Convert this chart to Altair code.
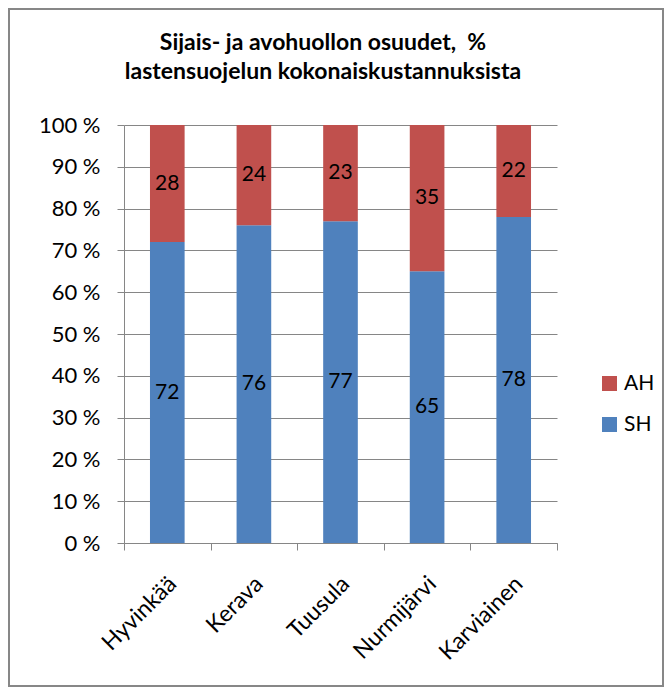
import altair as alt
import pandas as pd

categories = ["Hyvinkää", "Kerava", "Tuusula", "Nurmijärvi", "Karviainen"]
sh_values = [72, 76, 77, 65, 78]
ah_values = [28, 24, 23, 35, 22]
series = ["AH", "SH"]
colors = ["#C0504D", "#4F81BD"]
y_ticks = list(range(0, 101, 10))
title_lines = ["Sijais- ja avohuollon osuudet,\u00a0 %", "lastensuojelun kokonaiskustannuksista"]

rows = []
for c, s, a in zip(categories, sh_values, ah_values):
    rows.append({"kunta": c, "sarja": "SH", "arvo": s, "jarj": 0})
    rows.append({"kunta": c, "sarja": "AH", "arvo": a, "jarj": 1})
df = pd.DataFrame(rows)

FONT = "Lato"
GRAY = "#868686"
W, H = 433, 418
PL, PT, PR, PB = 116, 117, 107, 144

base = alt.Chart(df).transform_stack(
    stack="arvo", groupby=["kunta"], as_=["y0", "y1"], sort=[alt.SortField("jarj")]
).transform_calculate(ymid="(datum.y0 + datum.y1) / 2")

x_scale = alt.Scale(paddingInner=0, paddingOuter=0)
x_enc = alt.X(
    "kunta:N", sort=categories, scale=x_scale,
    axis=alt.Axis(title=None, labelAngle=-45, labelAlign="right", labelBaseline="middle",
                  labelFont=FONT, labelFontSize=23, labelColor="black", labelPadding=30,
                  labelOffset=5,
                  tickBand="extent", tickSize=7, tickColor=GRAY, domainColor=GRAY, grid=False),
)

bars = base.mark_bar(width=alt.RelativeBandSize(0.4)).encode(
    x=x_enc,
    y=alt.Y("y0:Q", scale=alt.Scale(domain=[0, 100], nice=False),
            axis=alt.Axis(title=None, values=y_ticks, labelExpr="datum.value + ' %'",
                          labelFont=FONT, labelFontSize=22, labelColor="black", labelPadding=17,
                          tickSize=7, tickColor=GRAY, domainColor=GRAY,
                          grid=True, gridColor=GRAY, gridWidth=1)),
    y2="y1:Q",
    color=alt.Color("sarja:N", scale=alt.Scale(domain=series, range=colors),
                    legend=alt.Legend(title=None, orient="none", legendX=475, legendY=248,
                                      symbolType="square", symbolSize=225, symbolStrokeWidth=0,
                                      labelFont=FONT, labelFontSize=21, labelColor="black",
                                      rowPadding=19, labelOffset=4)),
)

labels = base.mark_text(font=FONT, fontSize=21, color="black").encode(
    x=alt.X("kunta:N", sort=categories, scale=x_scale),
    y=alt.Y("ymid:Q"),
    text=alt.Text("arvo:Q"),
)

one = pd.DataFrame({"a": [0]})

border = alt.Chart(one).mark_rect(
    fillOpacity=0, stroke="#878787", strokeWidth=2
).encode(
    x=alt.value(-PL + 1), x2=alt.value(W + PR - 1),
    y=alt.value(-PT + 1), y2=alt.value(H + PB - 1),
)

title = alt.Chart(one).mark_text(
    text=title_lines, font=FONT, fontSize=23, fontWeight="bold", color="black",
    align="center", baseline="alphabetic", lineHeight=29,
).encode(x=alt.value(199), y=alt.value(-75))

chart = alt.layer(border, bars, labels, title).properties(
    width=W, height=H,
    autosize=alt.AutoSizeParams(type="none"),
    padding={"left": PL, "top": PT, "right": PR, "bottom": PB},
).configure_view(strokeWidth=0)

chart.save("out.html", embed_options={"renderer": "svg", "actions": False})
